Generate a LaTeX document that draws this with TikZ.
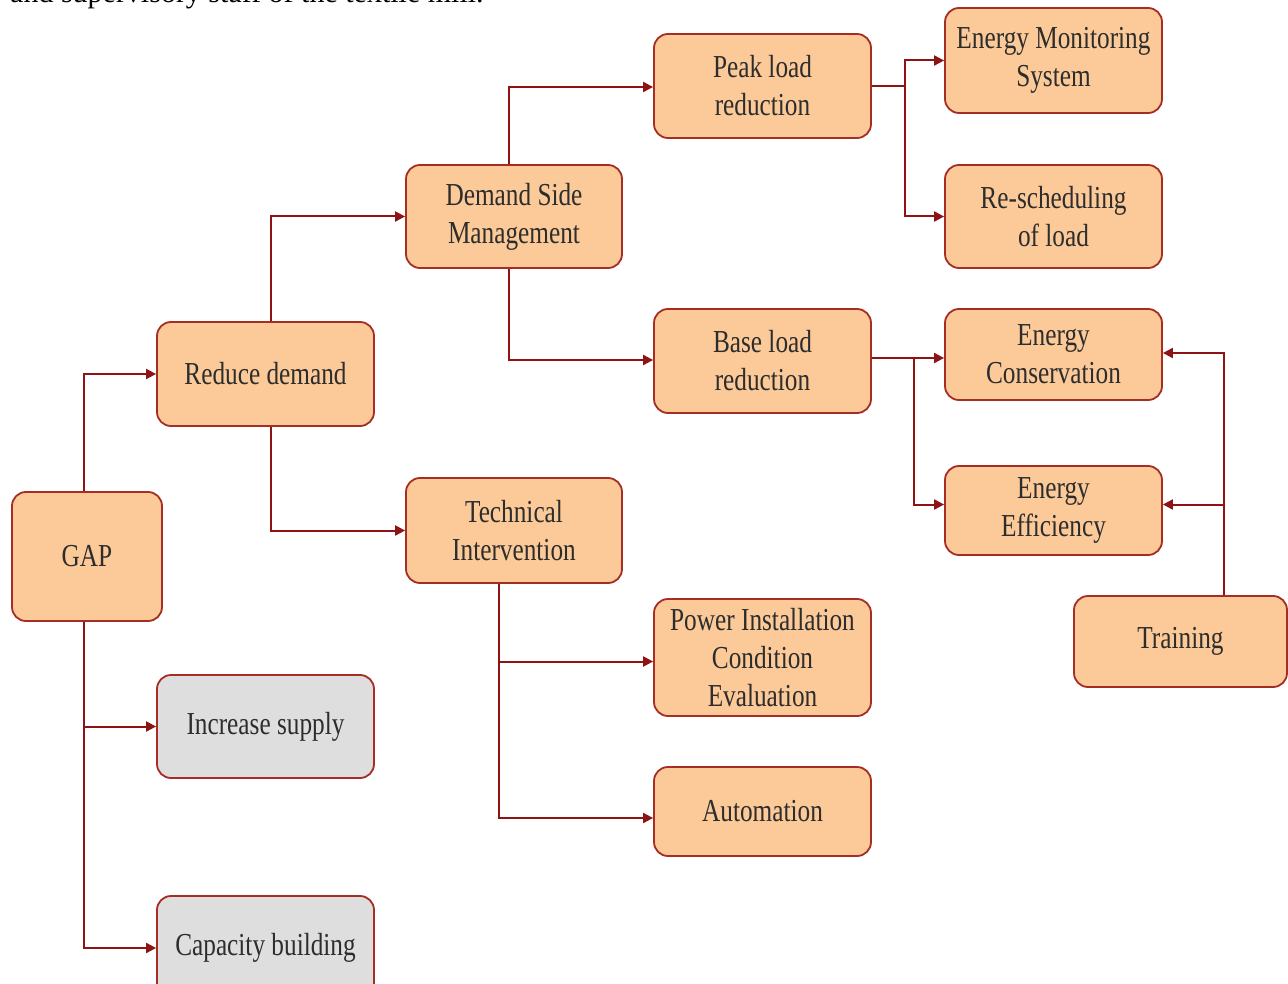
\documentclass[tikz,border=0pt]{standalone}
\usepackage{fontspec}
\setmainfont{Liberation Serif}
\newfontfamily\nodefont{Liberation Serif}[FakeStretch=0.79]
\usetikzlibrary{arrows.meta,calc}
\definecolor{boxfill}{RGB}{252,202,152}
\definecolor{boxgray}{RGB}{222,222,222}
\definecolor{boxline}{RGB}{165,45,35}
\definecolor{connline}{RGB}{140,20,20}
\definecolor{txt}{RGB}{45,45,45}
\tikzset{
  box/.style={draw=boxline, line width=1.8pt, fill=boxfill, rounded corners=14pt,
    inner sep=0pt, align=center, text=txt,
    font=\nodefont\fontsize{32}{38}\selectfont},
  graybox/.style={box, fill=boxgray},
  conn/.style={draw=connline, line width=2pt, -{Triangle[length=10pt,width=10pt]}},
  plain/.style={draw=connline, line width=2pt},
}
\begin{document}
\begin{tikzpicture}[x=1pt,y=-1pt]
\useasboundingbox (0,0) rectangle (1288,984);
\clip (0,0) rectangle (1288,984);
\node[anchor=base west, inner sep=0pt, font=\fontsize{30}{36}\selectfont, text=black] (toptext) at (10,3) {and supervisory staff of the textile mill.};

\node[box, minimum width=150pt, minimum height=129pt] (gap) at (87,556.5) {GAP};
\node[box, minimum width=217pt, minimum height=104pt] (reduce) at (265.5,374) {Reduce demand};
\node[graybox, minimum width=217pt, minimum height=103pt] (inc) at (265.5,726.5) {Increase supply};
\node[graybox, minimum width=217pt, minimum height=104pt] (cap) at (265.5,948) {Capacity building};
\node[box, minimum width=216pt, minimum height=103pt] (dsm) at (514,216.5) {Demand Side\\Management};
\node[box, minimum width=216pt, minimum height=105pt] (ti) at (514,530.5) {Technical\\Intervention};
\node[box, minimum width=217pt, minimum height=104pt] (peak) at (762.5,86) {Peak load\\reduction};
\node[box, minimum width=217pt, minimum height=104pt] (base) at (762.5,361) {Base load\\reduction};
\node[box, minimum width=217pt, minimum height=117pt] (pice) at (762.5,657.5) {Power Installation\\Condition\\Evaluation};
\node[box, minimum width=217pt, minimum height=89pt] (auto) at (762.5,811.5) {Automation};
\node[box, minimum width=217pt, minimum height=105pt] (ems) at (1053.5,60.5) {Energy Monitoring\\System};
\node[box, minimum width=217pt, minimum height=103pt] (resched) at (1053.5,216.5) {Re-scheduling\\of load};
\node[box, minimum width=217pt, minimum height=91pt] (ec) at (1053.5,354.5) {Energy\\Conservation};
\node[box, minimum width=217pt, minimum height=89pt] (ee) at (1053.5,510.5) {Energy\\Efficiency};
\node[box, minimum width=213pt, minimum height=91pt] (training) at (1180.5,641.5) {Training};

% GAP
\draw[conn] ([xshift=-3pt]gap.north) |- (reduce.west);
\draw[conn] ([xshift=-3pt]gap.south) |- (inc.west);
\draw[conn] ([xshift=-3pt]gap.south) |- (cap.west);
% Reduce demand
\draw[conn] ([xshift=5pt]reduce.north) |- (dsm.west);
\draw[conn] ([xshift=5pt]reduce.south) |- (ti.west);
% DSM
\draw[conn] ([xshift=-5pt]dsm.north) |- ([yshift=-1pt]peak.west);
\draw[conn] ([xshift=-5pt]dsm.south) |- ([yshift=1pt]base.west);
% Peak load
\coordinate (pj) at ($(peak.east)+(33,0)$);
\draw[plain] (peak.east) -- (pj);
\draw[conn] (pj) |- (ems.west);
\draw[conn] (pj) |- (resched.west);
% Base load
\draw[conn] ([yshift=3pt]base.east) -- ([yshift=3pt]base.east -| ec.west);
\coordinate (bj) at ($([yshift=3pt]base.east)+(42,0)$);
\draw[conn] (bj) |- ([yshift=6pt]ee.west);
% Technical Intervention
\draw[conn] ([xshift=-15pt]ti.south) |- ([yshift=-4pt]pice.west);
\draw[conn] ([xshift=-15pt]ti.south) |- ([yshift=-6.5pt]auto.west);
% Training
\draw[conn] ([xshift=43pt]training.north) |- ([yshift=1.5pt]ec.east);
\draw[conn] ([xshift=43pt]training.north) |- ([yshift=6pt]ee.east);
\end{tikzpicture}
\end{document}
